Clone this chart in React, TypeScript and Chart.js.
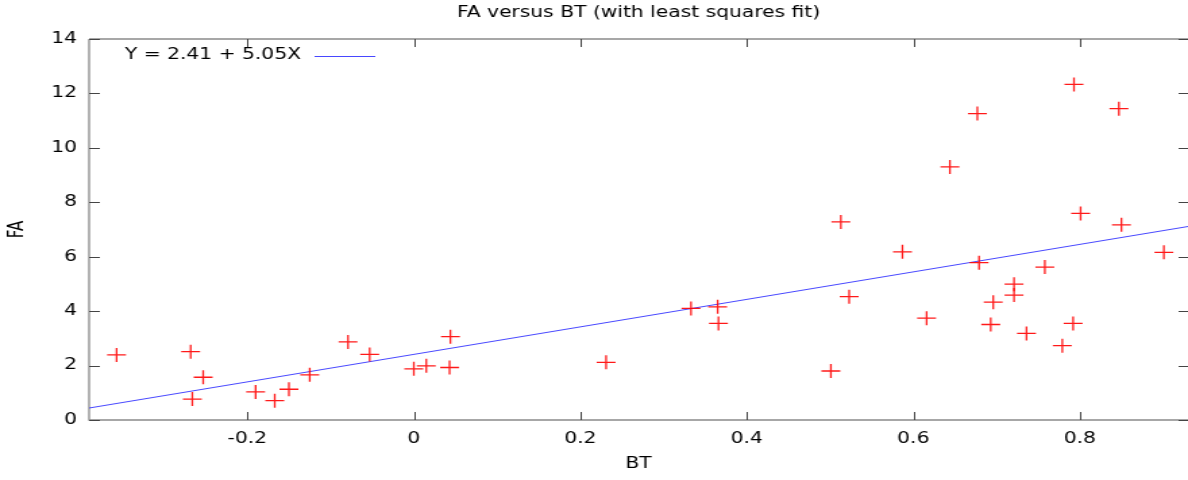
import React, { useEffect, useRef } from "react";
import { Chart, registerables } from "chart.js";

Chart.register(...registerables);

// ---- data ----
const btValues = [
  -0.357, -0.268, -0.253, -0.266, -0.19, -0.167, -0.15, -0.125, -0.079, -0.053,
  0.0, 0.015, 0.043, 0.044, 0.231, 0.333, 0.365, 0.366, 0.501, 0.513,
  0.523, 0.587, 0.616, 0.644, 0.677, 0.679, 0.693, 0.696, 0.721, 0.721,
  0.736, 0.758, 0.779, 0.792, 0.793, 0.801, 0.847, 0.85, 0.901,
];
const faValues = [
  2.39, 2.51, 1.57, 0.77, 1.03, 0.71, 1.13, 1.66, 2.87, 2.41,
  1.88, 1.99, 1.93, 3.06, 2.12, 4.1, 4.16, 3.55, 1.8, 7.28,
  4.53, 6.18, 3.74, 9.3, 11.26, 5.78, 3.51, 4.33, 4.99, 4.59,
  3.18, 5.62, 2.73, 3.55, 12.33, 7.59, 11.44, 7.17, 6.16,
];
const fitX = [-0.39, 0.93];
const fitY = [0.44, 7.11];
const xTicks = [-0.2, 0, 0.2, 0.4, 0.6, 0.8];
const yTicks = [0, 2, 4, 6, 8, 10, 12, 14];
const titleText = "FA versus BT (with least squares fit)";
const legendText = "Y = 2.41 + 5.05X";
const xTitle = "BT";
const yTitle = "FA";

const FONT = "'DejaVu Sans', Verdana, sans-serif";
const INNER_W = 880;
const H = 480;
const OUTER_W = 1188;

const framePlugin = {
  id: "gnuFrame",
  beforeDatasetsDraw(chart: any) {
    const { ctx, chartArea } = chart;
    const { left, right, top, bottom } = chartArea;
    const xs = chart.scales.x;
    const ys = chart.scales.y;
    ctx.save();
    ctx.strokeStyle = "#8a8a8a";
    ctx.lineWidth = 1.3;
    ctx.beginPath();
    ctx.moveTo(left, top);
    ctx.lineTo(right + 2, top);
    ctx.moveTo(left, top);
    ctx.lineTo(left, bottom);
    ctx.lineTo(right + 2, bottom);
    ctx.stroke();
    ctx.strokeStyle = "#444";
    ctx.lineWidth = 1;
    ctx.beginPath();
    for (const v of xTicks) {
      const px = Math.round(xs.getPixelForValue(v)) + 0.5;
      ctx.moveTo(px, bottom);
      ctx.lineTo(px, bottom - 8);
      ctx.moveTo(px, top);
      ctx.lineTo(px, top + 8);
    }
    for (const v of yTicks) {
      const py = Math.round(ys.getPixelForValue(v)) + 0.5;
      ctx.moveTo(left, py);
      ctx.lineTo(left + 8, py);
      ctx.moveTo(right + 1, py);
      ctx.lineTo(right - 7, py);
    }
    ctx.stroke();
    ctx.restore();
  },
  afterDatasetsDraw(chart: any) {
    const { ctx, chartArea } = chart;
    ctx.save();
    ctx.font = `15px ${FONT}`;
    ctx.fillStyle = "#000";
    ctx.textBaseline = "middle";
    ctx.textAlign = "left";
    const ty = chartArea.top + 16.5;
    ctx.fillText(legendText, chartArea.left + 26.5, ty);
    ctx.strokeStyle = "rgba(40,40,255,0.85)";
    ctx.lineWidth = 1;
    ctx.beginPath();
    ctx.moveTo(chartArea.left + 167, Math.round(ty) + 0.5);
    ctx.lineTo(chartArea.left + 212, Math.round(ty) + 0.5);
    ctx.stroke();
    ctx.restore();
  },
};

export default function App() {
  const ref = useRef<HTMLCanvasElement | null>(null);

  useEffect(() => {
    if (!ref.current) return;
    const points = btValues.map((x, i) => ({ x, y: faValues[i] }));
    const fit = fitX.map((x, i) => ({ x, y: fitY[i] }));
    const chart = new Chart(ref.current, {
      type: "scatter",
      data: {
        datasets: [
          {
            label: "fit",
            data: fit,
            showLine: true,
            borderColor: "rgba(40,40,255,0.85)",
            borderWidth: 1,
            pointRadius: 0,
            order: 2,
          },
          {
            label: "FA",
            data: points,
            pointStyle: "cross",
            pointRadius: 7,
            borderColor: "rgba(255,0,0,0.9)",
            backgroundColor: "rgba(255,0,0,0.9)",
            borderWidth: 1.3,
            order: 1,
          },
        ],
      },
      options: {
        responsive: false,
        animation: false,
        devicePixelRatio: 1,
        layout: { padding: 0, autoPadding: false },
        plugins: {
          legend: { display: false },
          tooltip: { enabled: false },
          title: {
            display: true,
            text: titleText,
            fullSize: false,
            color: "#000",
            font: { family: FONT, size: 15, weight: "normal" },
            padding: { top: 4, bottom: 17 },
          },
        },
        scales: {
          x: {
            type: "linear",
            min: fitX[0],
            max: fitX[1],
            grid: { display: false, drawTicks: false },
            border: { display: false },
            afterBuildTicks: (s: any) => {
              s.ticks = xTicks.map((v) => ({ value: v }));
            },
            afterFit: (s: any) => {
              s.height = 60;
              s.paddingLeft = 0;
              s.paddingRight = 0;
            },
            ticks: {
              color: "#000",
              padding: 10,
              maxRotation: 0,
              font: { family: FONT, size: 15 },
              callback: (v: any) => String(v),
            },
            title: {
              display: true,
              text: xTitle,
              color: "#000",
              font: { family: FONT, size: 15 },
              padding: { top: 0, bottom: 7 },
            },
          },
          y: {
            type: "linear",
            min: 0,
            max: 14,
            grid: { display: false, drawTicks: false },
            border: { display: false },
            afterBuildTicks: (s: any) => {
              s.ticks = yTicks.map((v) => ({ value: v }));
            },
            afterFit: (s: any) => {
              s.width = 66;
              s.paddingTop = 0;
              s.paddingBottom = 0;
            },
            ticks: {
              color: "#000",
              padding: 9,
              font: { family: FONT, size: 15 },
              callback: (v: any) => String(v),
            },
            title: {
              display: true,
              text: yTitle,
              color: "#000",
              font: { family: FONT, size: 15 },
              padding: { top: 4, bottom: 0 },
            },
          },
        },
      },
      plugins: [framePlugin],
    } as any);
    return () => chart.destroy();
  }, []);

  return (
    <div style={{ position: "absolute", left: 0, top: 0, width: OUTER_W, height: H, background: "#fff" }}>
      <canvas
        ref={ref}
        width={INNER_W}
        height={H}
        style={{ width: `${OUTER_W}px`, height: `${H}px`, display: "block" }}
      />
    </div>
  );
}
